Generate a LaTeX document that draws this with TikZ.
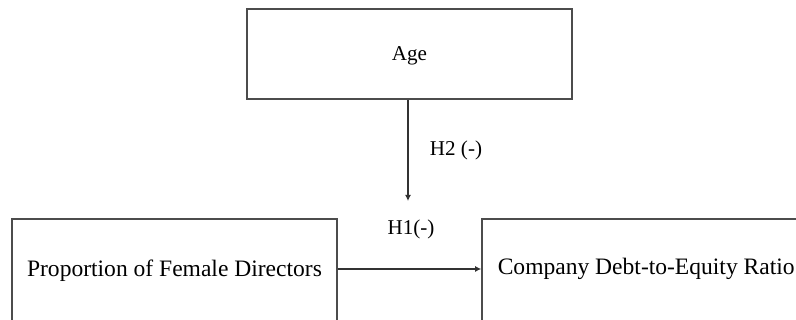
\documentclass[tikz,border=0pt]{standalone}
\usepackage{fontspec}
\setmainfont{Liberation Serif}
\usetikzlibrary{arrows.meta}

\tikzset{
  varbox/.style={draw=black!70, line width=0.9pt, minimum width=6.5cm, minimum height=2.08cm, inner sep=0pt, font=\fontsize{13.4}{15}\selectfont},
  link/.style={draw=black!80, line width=1pt, -{Latex[length=3.5pt,width=3.5pt]}},
  hyplabel/.style={font=\fontsize{12}{14}\selectfont, inner sep=0pt}
}

\begin{document}
\begin{tikzpicture}[x=0.02cm, y=0.02cm]
        % Marco de la figura
        \useasboundingbox (0,0) rectangle (796,320);
        \clip (0,0) rectangle (796,320);

        % Dibuja las cajas
        \node[varbox, minimum height=1.8cm] (age) at (409.5,266) {};
        \node[hyplabel] (agelabel) at (409.5,264) {Age};
        \node[varbox] (female) at (174.5,49) {Proportion of Female Directors};
        \node[varbox] (debt) at (644.5,49) {};
        \node[varbox, draw=none, minimum width=0pt, minimum height=0pt, anchor=west] (debtlabel) at (497,51) {Company Debt-to-Equity Ratio};

        % Punto final de la flecha vertical
        \coordinate (h2end) at (408,119);

        % Dibuja las flechas
        \draw[link] (age.south -| h2end) -- (h2end);
        \draw[link] (female.east |- 0,51) -- (debt.west |- 0,51);

        % Coloca las etiquetas H1 y H2
        \node[hyplabel] (h2) at (456,170) {H2 (-)};
        \node[hyplabel] (h1) at (411,91) {H1(-)};
\end{tikzpicture}
\end{document}
